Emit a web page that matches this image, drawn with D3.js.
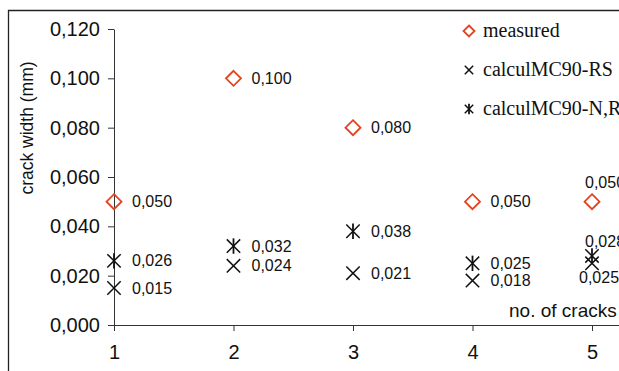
<!DOCTYPE html>
<html>
<head>
<meta charset="utf-8">
<script src="https://cdn.jsdelivr.net/npm/d3@7"></script>
<style>
  html, body { margin: 0; padding: 0; background: #fff; }
  svg { display: block; }
</style>
</head>
<body>
<svg id="chart" width="619" height="371"></svg>
<script>
// Number of cracks and crack widths (mm)
const cracks = [1, 2, 3, 4, 5];
const measured = [0.050, 0.100, 0.080, 0.050, 0.050];
const calcRS = [0.015, 0.024, 0.021, 0.018, 0.025];
const calcNRS = [0.026, 0.032, 0.038, 0.025, 0.028];
const yTicks = [0, 0.02, 0.04, 0.06, 0.08, 0.10, 0.12];
const seriesNames = ["measured", "calculMC90-RS", "calculMC90-N,RS"];

const svg = d3.select("#chart");
const red = "#e4431f";
const ink = "#111";
const sans = "Liberation Sans, Arial, sans-serif";

const x = d3.scaleLinear().domain([1, 5]).range([114, 592]);
const y = d3.scaleLinear().domain([0, 0.12]).range([325, 29]);
const fmt = v => d3.format(".3f")(v).replace(".", ",");

// outer frame (open to the right and bottom)
svg.append("path")
  .attr("d", "M8.5,371 V10.5 H619")
  .attr("fill", "none").attr("stroke", "#222").attr("stroke-width", 1.3);

// y axis
const yAxis = svg.append("g").attr("transform", "translate(114,0)")
  .call(d3.axisLeft(y).tickValues(yTicks).tickFormat(fmt).tickSize(6).tickPadding(8).tickSizeOuter(0));
yAxis.select(".domain").attr("stroke", "#333");
yAxis.selectAll(".tick line").attr("stroke", "#333");
yAxis.selectAll("text").attr("font-family", sans).attr("font-size", 20).attr("fill", ink);

// x axis, its line running on to the right edge
const xAxis = svg.append("g").attr("transform", "translate(0,325)")
  .call(d3.axisBottom(x).tickValues(cracks).tickFormat(d3.format("d")).tickSize(6).tickPadding(14).tickSizeOuter(0));
xAxis.select(".domain").attr("d", `M${x(1)},0.5H619`).attr("stroke", "#333");
xAxis.selectAll(".tick line").attr("stroke", "#333");
xAxis.selectAll("text").attr("font-family", sans).attr("font-size", 20).attr("fill", ink);

// axis titles
svg.append("text")
  .attr("transform", "translate(33,128) rotate(-90)")
  .attr("text-anchor", "middle")
  .attr("font-family", sans).attr("font-size", 17.5).attr("fill", ink)
  .text("crack width (mm)");
svg.append("text")
  .attr("x", 509).attr("y", 317)
  .attr("font-family", sans).attr("font-size", 19).attr("fill", ink)
  .text("no. of cracks");

// marker shapes
function diamond(g, cx, cy, r) {
  g.append("path")
    .attr("d", `M${cx},${cy - r}L${cx + r},${cy}L${cx},${cy + r}L${cx - r},${cy}Z`)
    .attr("fill", "none").attr("stroke", red).attr("stroke-width", 1.8);
}
function cross(g, cx, cy, r) {
  g.append("path")
    .attr("d", `M${cx - r},${cy - r}L${cx + r},${cy + r}M${cx + r},${cy - r}L${cx - r},${cy + r}`)
    .attr("fill", "none").attr("stroke", ink).attr("stroke-width", 1.5);
}
function star(g, cx, cy, r) {
  cross(g, cx, cy, r);
  g.append("path")
    .attr("d", `M${cx},${cy - r - 1}V${cy + r + 1}`)
    .attr("fill", "none").attr("stroke", ink).attr("stroke-width", 1.8);
}

const marks = svg.append("g");
const labels = svg.append("g")
  .attr("font-family", sans).attr("font-size", 16).attr("fill", ink);

function label(xp, yp, v) {
  labels.append("text").attr("x", xp).attr("y", yp).attr("dy", "0.35em").text(fmt(v));
}

cracks.forEach((c, i) => {
  const cx = x(c);
  diamond(marks, cx, y(measured[i]), 7.5);
  cross(marks, cx, y(calcRS[i]), 6.7);
  star(marks, cx, y(calcNRS[i]), 6.7);
  if (c < 5) {
    label(cx + 18, y(measured[i]), measured[i]);
    label(cx + 18, y(calcRS[i]), calcRS[i]);
    label(cx + 18, y(calcNRS[i]), calcNRS[i]);
  } else {
    label(cx - 7, y(measured[i]) - 19, measured[i]);
    label(cx - 7, y(calcNRS[i]) - 15, calcNRS[i]);
    label(cx - 13, y(calcRS[i]) + 14, calcRS[i]);
  }
});

// legend
const legend = svg.append("g");
const legY = [31, 70, 109];
const drawers = [diamond, cross, star];
seriesNames.forEach((name, i) => {
  drawers[i](legend, 469, legY[i], i === 0 ? 5.5 : 4.2);
  legend.append("text").attr("x", 483).attr("y", legY[i]).attr("dy", "0.3em")
    .attr("font-family", "Liberation Serif, Times New Roman, serif")
    .attr("font-size", 20).attr("fill", ink).text(name);
});
</script>
</body>
</html>
